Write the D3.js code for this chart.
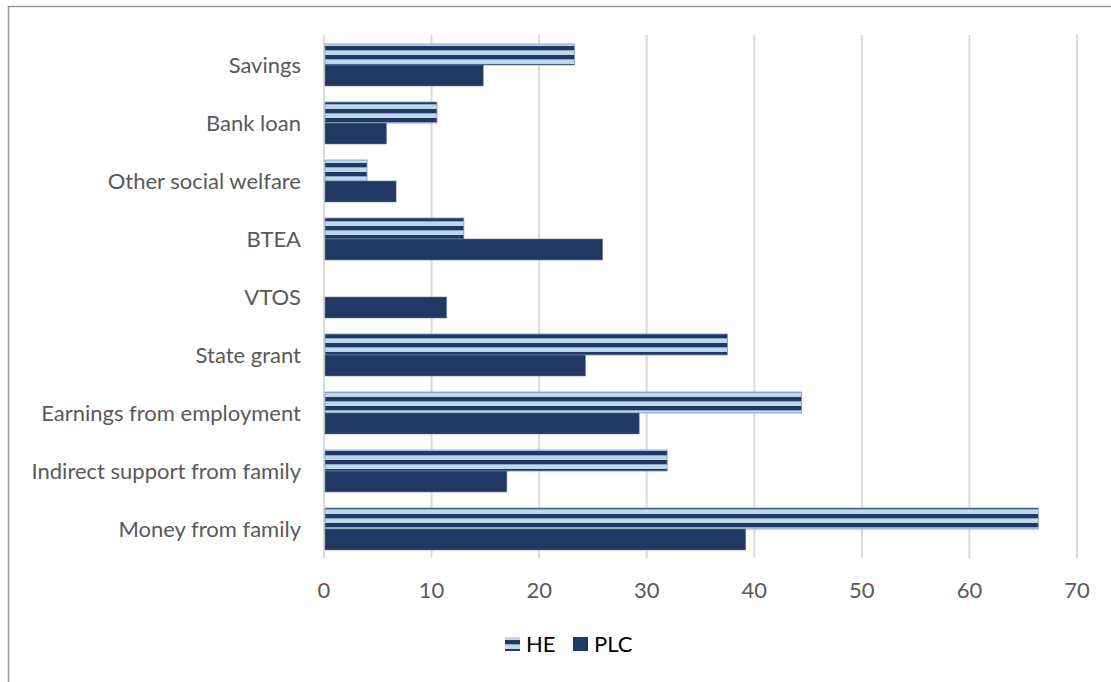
<!DOCTYPE html>
<html>
<head>
<meta charset="utf-8">
<script src="https://cdn.jsdelivr.net/npm/d3@7"></script>
<style>
  html, body { margin: 0; padding: 0; background: #fff; }
  #chart { width: 1111px; height: 682px; }
  text { font-family: Lato, "Open Sans", sans-serif; }
</style>
</head>
<body>
<div id="chart"></div>
<script>
// categories top to bottom
const categories = ["Savings", "Bank loan", "Other social welfare", "BTEA", "VTOS",
    "State grant", "Earnings from employment", "Indirect support from family", "Money from family"];
const seriesNames = ["HE", "PLC"];
const heValues = [23.3, 10.5, 4.0, 13.0, 0, 37.5, 44.4, 31.9, 66.4];
const plcValues = [14.8, 5.8, 6.7, 25.9, 11.4, 24.3, 29.3, 17.0, 39.2];
const xTicks = [0, 10, 20, 30, 40, 50, 60, 70];

const width = 1111, height = 682;
const plot = { left: 324, right: 1077, top: 36, bottom: 558 };

const svg = d3.select("#chart").append("svg")
    .attr("width", width)
    .attr("height", height);

// striped fill for HE
const defs = svg.append("defs");
const pat = defs.append("pattern")
    .attr("id", "stripes")
    .attr("patternUnits", "userSpaceOnUse")
    .attr("width", 8).attr("height", 9)
    .attr("y", 1);
pat.append("rect").attr("width", 8).attr("height", 9).attr("fill", "#bdd7ee");
pat.append("rect").attr("y", 0).attr("width", 8).attr("height", 4.3).attr("fill", "#203864");

// outer border (cut off at right/bottom like the original)
svg.append("rect")
    .attr("x", 8.5).attr("y", 6.5)
    .attr("width", 1200).attr("height", 1000)
    .attr("fill", "none")
    .attr("stroke", "#9a9a9a")
    .attr("stroke-width", 1.5);

const x = d3.scaleLinear().domain([0, 70]).range([plot.left, plot.right]);
const y = d3.scaleBand().domain(categories).range([plot.top, plot.bottom]).paddingInner(0.276).paddingOuter(0.138);
const ySub = d3.scaleBand().domain(seriesNames).range([0, y.bandwidth()]);

// gridlines
svg.append("g").selectAll("line")
    .data(xTicks)
    .join("line")
    .attr("x1", d => x(d)).attr("x2", d => x(d))
    .attr("y1", plot.top - 1).attr("y2", plot.bottom)
    .attr("stroke", "#d9d9d9")
    .attr("stroke-width", 2);

// x tick labels
svg.append("g").selectAll("text")
    .data(xTicks)
    .join("text")
    .attr("x", d => x(d))
    .attr("y", 598)
    .attr("text-anchor", "middle")
    .attr("fill", "#595959")
    .style("font-size", "22px")
    .text(d => d);

// category labels
svg.append("g").selectAll("text")
    .data(categories)
    .join("text")
    .attr("x", 301)
    .attr("y", d => y(d) + y.bandwidth() / 2 + 8)
    .attr("text-anchor", "end")
    .attr("fill", "#595959")
    .style("font-size", "22px")
    .text(d => d);

const rows = categories.map((c, i) => ({ cat: c, HE: heValues[i], PLC: plcValues[i] }));

// HE bars
svg.append("g").selectAll("rect")
    .data(rows.filter(d => d.HE > 0))
    .join("rect")
    .attr("x", x(0) + 1)
    .attr("y", d => y(d.cat) + ySub("HE"))
    .attr("width", d => x(d.HE) - x(0) - 1)
    .attr("height", ySub.bandwidth())
    .attr("fill", "url(#stripes)")
    .attr("stroke", "#8497b0")
    .attr("stroke-width", 0.8);

// PLC bars
svg.append("g").selectAll("rect")
    .data(rows)
    .join("rect")
    .attr("x", x(0) + 1)
    .attr("y", d => y(d.cat) + ySub("PLC"))
    .attr("width", d => x(d.PLC) - x(0) - 1)
    .attr("height", ySub.bandwidth())
    .attr("fill", "#203864")
    .attr("stroke", "#6b7a99")
    .attr("stroke-width", 0.6);

// legend
const legend = svg.append("g");
const legendItems = [
    { name: "HE", x: 505, fill: "url(#stripes)" },
    { name: "PLC", x: 573, fill: "#203864" }
];
legendItems.forEach(d => {
    legend.append("rect")
        .attr("x", d.x).attr("y", 637)
        .attr("width", 15).attr("height", 14)
        .attr("fill", d.fill);
    legend.append("text")
        .attr("x", d.x + 21).attr("y", 652)
        .attr("fill", "#000")
        .style("font-size", "22px")
        .text(d.name);
});
</script>
</body>
</html>
